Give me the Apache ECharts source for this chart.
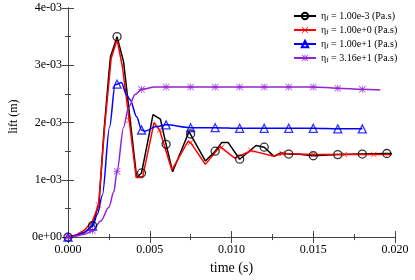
<!DOCTYPE html>
<html>
<head>
<meta charset="utf-8">
<script src="https://cdn.jsdelivr.net/npm/echarts@6/dist/echarts.min.js"></script>
<style>
html,body{margin:0;padding:0;background:#fff;}
#chart{width:415px;height:280px;}
</style>
</head>
<body>
<div id="chart"></div>
<script>
// ---- data (time in s, lift in units of 1e-3 m) ----
const xTickLabels = ['0.000', '0.005', '0.010', '0.015', '0.020'];
const yTickLabels = ['0e+00', '1e-03', '2e-03', '3e-03', '4e-03'];
const viscosities = ['1.00e-3', '1.00e+0', '1.00e+1', '3.16e+1'];

const blackT = [0,0.0005,0.001,0.0015,0.0019,0.0022,0.0025,0.0026,0.003,0.0034,0.0037,0.0042,0.0045,0.0052,0.00565,0.006,0.0064,0.0074,0.0084,0.009,0.0094,0.0098,0.0105,0.0115,0.012,0.0126,0.013,0.0135,0.014,0.015,0.0165,0.018,0.0195,0.0198];
const blackV = [0,0.03,0.08,0.2,0.6,1.85,2.85,3.15,3.5,3.06,2.3,1.04,1.12,2.14,2.06,1.62,1.14,1.84,1.33,1.5,1.65,1.65,1.36,1.6,1.57,1.41,1.47,1.45,1.45,1.42,1.44,1.45,1.46,1.46];
const blackMarkT = [0,0.0015,0.003,0.0045,0.006,0.0075,0.009,0.0105,0.012,0.0135,0.015,0.0165,0.018,0.0195];
const blackMarkV = [0,0.2,3.5,1.12,1.62,1.8,1.5,1.36,1.57,1.45,1.42,1.44,1.45,1.46];

const redT = [0,0.0005,0.001,0.0015,0.00187,0.00224,0.0025,0.00264,0.003,0.00333,0.00374,0.00417,0.00456,0.00526,0.0056,0.00635,0.00734,0.0075,0.0084,0.0093,0.0102,0.0112,0.0126,0.0131,0.015,0.0169,0.0187,0.0198];
const redV = [0,0.04,0.12,0.28,0.56,1.92,2.7,3.12,3.45,2.97,2.04,1.04,1.04,2.0,1.87,1.17,1.67,1.65,1.27,1.58,1.38,1.51,1.41,1.46,1.44,1.44,1.44,1.44];
const redMarkT = [0,0.00187,0.00374,0.0056,0.0075,0.0094,0.0112,0.0131,0.015,0.0169,0.0187];
const redMarkV = [0,0.56,2.04,1.87,1.65,1.57,1.51,1.46,1.44,1.44,1.44];

const blueT = [0,0.0005,0.001,0.0015,0.0018,0.0021,0.00254,0.00288,0.003,0.00327,0.00357,0.0038,0.0042,0.0045,0.0047,0.0054,0.006,0.0075,0.009,0.0105,0.012,0.0135,0.015,0.0165,0.018];
const blueV = [0,0.03,0.08,0.19,0.4,0.73,1.92,2.66,2.67,2.70,2.49,2.4,2.1,1.87,1.85,1.93,1.96,1.91,1.91,1.9,1.9,1.9,1.9,1.89,1.89];
const blueMarkT = [0,0.0015,0.003,0.0045,0.006,0.0075,0.009,0.0105,0.012,0.0135,0.015,0.0165,0.018];
const blueMarkV = [0,0.19,2.67,1.87,1.96,1.91,1.91,1.9,1.9,1.9,1.9,1.89,1.89];

const purpleT = [0,0.0005,0.001,0.0015,0.002,0.0025,0.0028,0.003,0.0034,0.0037,0.0041,0.0045,0.0053,0.006,0.0075,0.009,0.0105,0.012,0.0135,0.015,0.0165,0.018,0.0191];
const purpleV = [0,0.02,0.05,0.11,0.28,0.52,0.79,1.15,1.92,2.26,2.49,2.58,2.62,2.62,2.62,2.62,2.62,2.62,2.62,2.62,2.6,2.58,2.57];
const purpleMarkT = [0,0.0015,0.003,0.0045,0.006,0.0075,0.009,0.0105,0.012,0.0135,0.015,0.0165,0.018];
const purpleMarkV = [0,0.11,1.15,2.58,2.62,2.62,2.62,2.62,2.62,2.62,2.62,2.6,2.58];

// ---- styling ----
const FONT = 'Liberation Serif';
const AXC = '#444';
const xSym = 'path://M0,0.8L0.8,0L5,4.2L9.2,0L10,0.8L5.8,5L10,9.2L9.2,10L5,5.8L0.8,10L0,9.2L4.2,5Z';
const starSym = 'path://M4.4,0H5.6V10H4.4Z M0,4.4H10V5.6H0Z M0.8,0L10,9.2L9.2,10L0,0.8Z M9.2,0L10,0.8L0.8,10L0,9.2Z';

const defs = [
  {T: blackT, V: blackV, MT: blackMarkT, MV: blackMarkV, color: '#000000', symbol: 'circle', hollow: true, size: 8, smooth: false},
  {T: redT, V: redV, MT: redMarkT, MV: redMarkV, color: '#ff0000', symbol: xSym, hollow: false, size: 6, smooth: false},
  {T: blueT, V: blueV, MT: blueMarkT, MV: blueMarkV, color: '#0000ff', symbol: 'triangle', hollow: true, size: 8, smooth: 0.3},
  {T: purpleT, V: purpleV, MT: purpleMarkT, MV: purpleMarkV, color: '#9420d8', symbol: starSym, hollow: false, size: 7, smooth: 0.3}
];

function pairs(T, V) { return T.map((t, i) => [t, V[i]]); }
function itemStyleFor(d) {
  return d.hollow
    ? {color: 'rgba(0,0,0,0)', borderColor: d.color, borderWidth: 1.3}
    : {color: d.color, borderWidth: 0};
}

const names = viscosities.map(v => 'ηf = ' + v + ' (Pa.s)');
const series = [];
defs.forEach((d, i) => {
  series.push({
    name: names[i], type: 'line', data: pairs(d.T, d.V),
    showSymbol: false, symbol: d.symbol, symbolSize: d.size,
    itemStyle: itemStyleFor(d),
    lineStyle: {color: d.color, width: 1.5},
    smooth: d.smooth, smoothMonotone: 'x',
    z: 2
  });
});
defs.forEach((d, i) => {
  series.push({
    name: 'm' + i, type: 'scatter', data: pairs(d.MT, d.MV),
    symbol: d.symbol, symbolSize: d.size,
    itemStyle: itemStyleFor(d), z: 3
  });
});

const tickCommon = {
  axisLine: {show: true, lineStyle: {color: AXC, width: 1}},
  axisTick: {show: true, inside: true, length: 6, lineStyle: {color: AXC}},
  minorTick: {show: true, splitNumber: 2, length: 3, lineStyle: {color: AXC}},
  splitLine: {show: false}
};

const option = {
  animation: false,
  backgroundColor: '#fff',
  grid: {left: 60, right: 20, top: 8, bottom: 37, containLabel: false},
  xAxis: [
    Object.assign({
      type: 'value', min: 0, max: 0.02, interval: 0.005, position: 'bottom',
      name: 'time (s)', nameLocation: 'middle', nameGap: 23,
      nameTextStyle: {fontFamily: FONT, fontSize: 14, color: '#000'},
      axisLabel: {fontFamily: FONT, fontSize: 12, color: '#000', margin: 7,
        formatter: (v) => xTickLabels[Math.round(v / 0.005)]}
    }, tickCommon),
    Object.assign({
      type: 'value', min: 0, max: 0.02, interval: 0.005, position: 'top',
      axisLabel: {show: false}
    }, tickCommon)
  ],
  yAxis: [
    Object.assign({
      type: 'value', min: 0, max: 4, interval: 1, position: 'left',
      name: 'lift (m)', nameLocation: 'middle', nameGap: 48,
      nameTextStyle: {fontFamily: FONT, fontSize: 12, color: '#000', padding: [0, 0, 0, 12]},
      axisLabel: {fontFamily: FONT, fontSize: 12, color: '#000', margin: 6,
        formatter: (v) => yTickLabels[Math.round(v)]}
    }, tickCommon),
    Object.assign({
      type: 'value', min: 0, max: 4, interval: 1, position: 'right',
      axisLabel: {show: false}
    }, tickCommon)
  ],
  legend: {
    data: names,
    orient: 'vertical',
    left: 270, top: 0,
    padding: [10, 22, 3, 23],
    backgroundColor: '#fff',
    itemWidth: 22, itemHeight: 8, itemGap: 2,
    icon: undefined,
    formatter: function (name) {
      const idx = names.indexOf(name);
      return '{n|η}{s|f}{n| = ' + viscosities[idx] + ' (Pa.s)}';
    },
    textStyle: {
      fontFamily: FONT, fontSize: 10, color: '#000', lineHeight: 12,
      rich: {
        n: {fontFamily: FONT, fontSize: 10, color: '#000', lineHeight: 12},
        s: {fontFamily: FONT, fontSize: 7, color: '#000', padding: [5, 0, 0, 0], lineHeight: 12}
      }
    }
  },
  series: series
};

const chart = echarts.init(document.getElementById('chart'), null, {renderer: 'canvas'});
chart.setOption(option);
</script>
</body>
</html>
